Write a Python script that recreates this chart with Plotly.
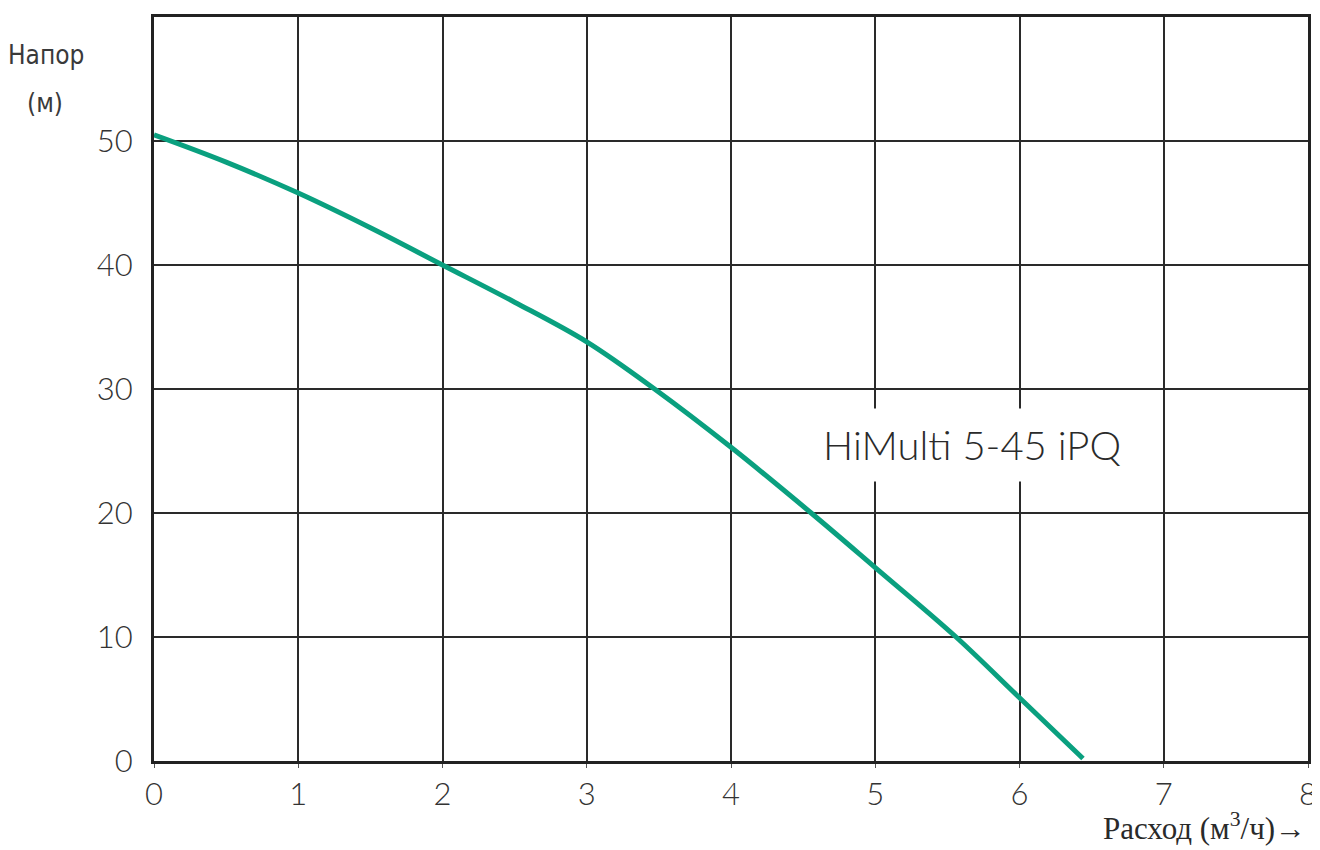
import plotly.graph_objects as go

# Data
flow = [0, 0.5, 1, 1.5, 2, 2.5, 3, 3.47, 4, 4.556, 5, 5.56, 6, 6.44]
head = [50.5, 48.3, 45.8, 43.0, 40.0, 37.0, 33.8, 30.0, 25.3, 20.0, 15.6, 10.0, 5.1, 0.2]
x_ticks = [0, 1, 2, 3, 4, 5, 6, 7, 8]
y_ticks = [0, 10, 20, 30, 40, 50]
curve_label = "HiMulti 5-45 iPQ"
y_title_1 = "Напор"
y_title_2 = "(м)"
x_title = "Расход (м<sup>3</sup>/ч)→"

W, H = 1320, 850
L, R, T, B = 146, 20, 6, 97
pw, ph = W - L - R, H - T - B

tick_font = dict(family="Lato, Noto Sans, sans-serif", size=31, color="#333333", weight=300)

fig = go.Figure()
fig.add_trace(go.Scatter(
    x=flow, y=head, mode="lines",
    line=dict(color="#0aa07f", width=5, shape="spline", smoothing=1.0),
    hoverinfo="x+y", showlegend=False,
))

fig.update_layout(
    width=W, height=H,
    margin=dict(l=L, r=R, t=T, b=B),
    paper_bgcolor="white", plot_bgcolor="white",
    xaxis=dict(
        range=[0, 8], tickvals=x_ticks, ticktext=[str(v) for v in x_ticks],
        showgrid=True, gridcolor="#2a2a2a", gridwidth=1.5,
        showline=True, linecolor="#222", linewidth=3, mirror=True,
        ticks="outside", ticklen=4, tickcolor="#555", tickwidth=1,
        tickfont=tick_font, zeroline=False, fixedrange=True,
    ),
    yaxis=dict(
        range=[0, 60], tickvals=y_ticks, ticktext=[str(v) for v in y_ticks],
        showgrid=True, gridcolor="#2a2a2a", gridwidth=1.5,
        showline=True, linecolor="#222", linewidth=3, mirror=True,
        ticks="", ticklabelstandoff=12,
        tickfont=tick_font, zeroline=False, fixedrange=True,
    ),
)

fig.add_annotation(
    x=5.67, y=25.5, xref="x", yref="y", text=curve_label, showarrow=False,
    font=dict(family="Lato, Noto Sans, sans-serif", size=40, color="#2a2a2a", weight=300),
    bgcolor="white", borderpad=12,
)

title_font = dict(family="Liberation Sans Narrow, DejaVu Sans Condensed, sans-serif", size=26, color="#3a3a3a")
fig.add_annotation(
    text=y_title_1, xref="paper", yref="paper", x=-108 / pw, y=1 + (14 - 52) / ph,
    xanchor="center", yanchor="middle", showarrow=False, font=title_font,
)
fig.add_annotation(
    text=y_title_2, xref="paper", yref="paper", x=-109 / pw, y=1 + (14 - 100) / ph,
    xanchor="center", yanchor="middle", showarrow=False, font=title_font,
)
fig.add_annotation(
    text=x_title, xref="paper", yref="paper", x=1.0, y=-44 / ph,
    xanchor="right", yanchor="top", showarrow=False,
    font=dict(family="Liberation Serif, DejaVu Serif, serif", size=31, color="#2a2a2a"),
)

fig.write_html("out.html")
